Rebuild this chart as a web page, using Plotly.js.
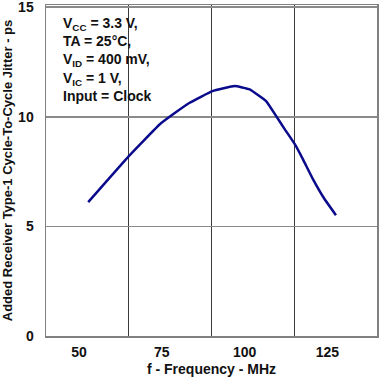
<!DOCTYPE html>
<html>
<head>
<meta charset="utf-8">
<script src="https://cdn.plot.ly/plotly-3.0.1.min.js"></script>
<style>html,body{margin:0;padding:0;background:#fff;}#chart{width:379px;height:380px;}</style>
</head>
<body>
<div id="chart"></div>
<script>
// Data
const frequencyMHz = [52.75, 65.1, 74.4, 78.9, 83.4, 90.3, 97.0, 101.5, 106.5, 109.6, 112.1, 115.3, 117.6, 120.6, 124.1, 127.6];
const jitterPs     = [6.11, 8.22, 9.66, 10.17, 10.64, 11.17, 11.40, 11.25, 10.72, 10.02, 9.44, 8.72, 8.07, 7.17, 6.26, 5.51];
const xTickVals = [50, 75, 100, 125];
const xGridVals = [65, 90, 115];
const yTickVals = [0, 5, 10, 15];
const conditionLines = ["V<sub>CC</sub> = 3.3 V,", "TA = 25°C,", "V<sub>ID</sub> = 400 mV,", "V<sub>IC</sub> = 1 V,", "Input = Clock"];

const font = {family: "Liberation Sans, Arial, sans-serif", size: 14, color: "#111"};

const trace = {
  x: frequencyMHz, y: jitterPs, type: "scatter", mode: "lines",
  line: {color: "#0a0a8c", width: 2.5, shape: "spline", smoothing: 0.3},
  hoverinfo: "skip", showlegend: false
};

const layout = {
  width: 379, height: 380,
  margin: {l: 46, r: 1.5, t: 5, b: 43.5},
  paper_bgcolor: "#fff", plot_bgcolor: "#fff",
  font: font,
  xaxis: {
    range: [40, 140], tickmode: "array", tickvals: xTickVals,
    ticktext: xTickVals.map(String),
    showgrid: false, zeroline: false,
    minor: {tickmode: "array", tickvals: xGridVals, showgrid: true, gridcolor: "#3a3a3a", gridwidth: 1, ticks: ""},
    showline: true, mirror: true, linecolor: "#808080", linewidth: 1.5,
    ticks: "", ticklabelstandoff: 3,
    tickfont: {family: font.family, size: 14, color: "#111", weight: "bold"},
    title: {text: "<b>f - Frequency - MHz</b>", font: {family: font.family, size: 14, color: "#111"}, standoff: 5}
  },
  yaxis: {
    range: [0, 15.1], tickmode: "array", tickvals: yTickVals,
    ticktext: yTickVals.map(String),
    showgrid: true, gridcolor: "#8a8a8a", gridwidth: 1.5, zeroline: false,
    showline: true, mirror: true, linecolor: "#808080", linewidth: 1.5,
    ticks: "", ticklabelstandoff: 8, ticklabeloverflow: "allow",
    tickfont: {family: font.family, size: 14, color: "#111", weight: "bold"},
    title: {text: "<b>Added Receiver Type-1 Cycle-To-Cycle Jitter - ps</b>", font: {family: font.family, size: 13, color: "#111"}, standoff: 8}
  },
  shapes: [{
    type: "rect", xref: "paper", yref: "paper", x0: 0.005, x1: 0.34, y0: 0.69, y1: 0.995,
    fillcolor: "#fff", line: {width: 0}, layer: "between"
  }],
  annotations: [{
    xref: "paper", yref: "paper", x: 0.045, y: 0.975, xanchor: "left", yanchor: "top",
    align: "left", showarrow: false,
    text: "<b>" + conditionLines.join("<br>") + "</b>",
    font: {family: font.family, size: 14, color: "#111"}
  }]
};

Plotly.newPlot("chart", [trace], layout, {staticPlot: true, displayModeBar: false});
</script>
</body>
</html>
